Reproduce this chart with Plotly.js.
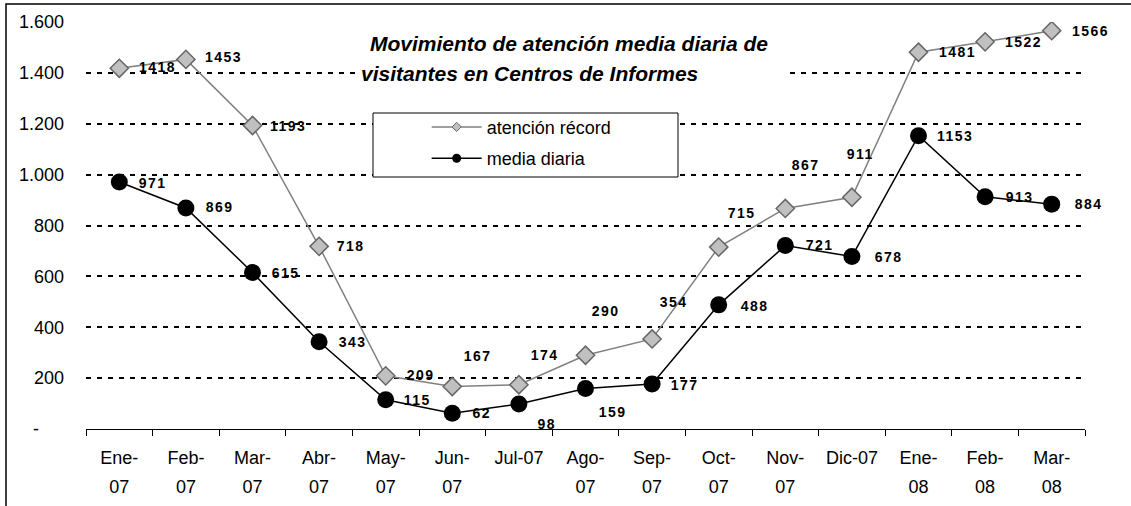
<!DOCTYPE html>
<html>
<head>
<meta charset="utf-8">
<script src="https://cdn.plot.ly/plotly-3.0.1.min.js"></script>
<style>
html,body{margin:0;padding:0;background:#fff;}
#chart{width:1131px;height:506px;}
</style>
</head>
<body>
<div id="chart"></div>
<script>
// ---- data ----
const months = ["Ene-07","Feb-07","Mar-07","Abr-07","May-07","Jun-07","Jul-07","Ago-07","Sep-07","Oct-07","Nov-07","Dic-07","Ene-08","Feb-08","Mar-08"];
const tickLine1 = ["Ene-","Feb-","Mar-","Abr-","May-","Jun-","Jul-07","Ago-","Sep-","Oct-","Nov-","Dic-07","Ene-","Feb-","Mar-"];
const tickLine2 = ["07","07","07","07","07","07","","07","07","07","07","","08","08","08"];
const atencionRecord = [1418,1453,1193,718,209,167,174,290,354,715,867,911,1481,1522,1566];
const mediaDiaria = [971,869,615,343,115,62,98,159,177,488,721,678,1153,913,884];
const yTickVals = [0,200,400,600,800,1000,1200,1400,1600];
const yTickText = ["-\u00a0\u00a0\u00a0\u00a0\u00a0","200","400","600","800","1.000","1.200","1.400","1.600"];
const seriesNames = ["atención récord","media diaria"];
const titleLine1 = "Movimiento de atención media diaria de";
const titleLine2 = "visitantes en Centros de Informes";

// ---- label offsets (px, screen: +x right, +y down) ----
const recDx = [38,38,36,32,35,26,26,20,22,23,21,9,39,38,39];
const recDy = [-1,-2,0,0,-1,-31,-30,-44,-37,-34,-43,-43,0,0,0];
const medDx = [34,34,33,34,32,30,28,27,33,36,35,37,37,35,37];
const medDy = [1,-1,0,0,0,0,20,23,1,1,-1,0,0,0,0];

const FONT = "Arial, 'Liberation Sans', sans-serif";

const recLine = {color: "#808080", width: 1.5};
const recMarker = {symbol: "diamond", color: "#c0c0c0", line: {color: "#666666", width: 1.5}};
const medLine = {color: "#000000", width: 1.5};
const medMarker = {symbol: "circle", color: "#000000"};

const traces = [
  {
    x: months, y: atencionRecord, name: seriesNames[0], type: "scatter", mode: "lines+markers",
    line: recLine, marker: Object.assign({size: 14}, recMarker),
    showlegend: false, hoverinfo: "x+y"
  },
  {
    x: months, y: mediaDiaria, name: seriesNames[1], type: "scatter", mode: "lines+markers",
    line: medLine, marker: Object.assign({size: 17}, medMarker),
    showlegend: false, hoverinfo: "x+y"
  },
  // legend entries only (gap point, nothing drawn)
  {
    x: [months[0]], y: [null], name: seriesNames[0], type: "scatter", mode: "lines+markers",
    line: recLine, marker: Object.assign({size: 7}, recMarker, {line: {color: "#666666", width: 1}}),
    legendgroup: "a", showlegend: true, hoverinfo: "skip"
  },
  {
    x: [months[0]], y: [null], name: seriesNames[1], type: "scatter", mode: "lines+markers",
    line: medLine, marker: Object.assign({size: 9}, medMarker),
    legendgroup: "b", showlegend: true, hoverinfo: "skip"
  },
  // carrier for the second row of x tick labels
  {
    x: [], y: [], xaxis: "x2", yaxis: "y", type: "scatter", mode: "markers", showlegend: false, hoverinfo: "skip"
  }
];

const annotations = [];
annotations.push({
  xref: "paper", yref: "paper", x: (368-86)/999, y: (429-43)/407, xanchor: "left", yanchor: "middle",
  text: titleLine1, showarrow: false, font: {family: FONT, size: 21, color: "#000", weight: 700, style: "italic"},
  bgcolor: "#ffffff", borderpad: 1
});
annotations.push({
  xref: "paper", yref: "paper", x: (358-86)/999, y: (429-73)/407, xanchor: "left", yanchor: "middle",
  text: titleLine2, showarrow: false, font: {family: FONT, size: 21, color: "#000", weight: 700, style: "italic"},
  bgcolor: "#ffffff", borderpad: 2, width: 426, align: "left"
});
const NLABEL_START = annotations.length;
atencionRecord.forEach((v, i) => {
  annotations.push({x: months[i], y: v, xref: "x", yref: "y", text: String(v), showarrow: false,
    xanchor: "center", yanchor: "middle", xshift: recDx[i], yshift: -recDy[i],
    font: {family: FONT, size: 14, color: "#000", weight: 700}});
});
mediaDiaria.forEach((v, i) => {
  annotations.push({x: months[i], y: v, xref: "x", yref: "y", text: String(v), showarrow: false,
    xanchor: "center", yanchor: "middle", xshift: medDx[i], yshift: -medDy[i],
    font: {family: FONT, size: 14, color: "#000", weight: 700}});
});

const layout = {
  width: 1131, height: 506,
  margin: {l: 86, r: 46, t: 22, b: 77},
  paper_bgcolor: "#ffffff", plot_bgcolor: "#ffffff",
  font: {family: FONT, color: "#000"},
  showlegend: true,
  legend: {
    x: 0.341, y: 0.787, xanchor: "left", yanchor: "top",
    bgcolor: "rgba(0,0,0,0)", borderwidth: 0,
    font: {family: FONT, size: 18, color: "#000"},
    traceorder: "grouped", tracegroupgap: 5, itemwidth: 50
  },
  xaxis: {
    type: "category", range: [-0.5, 14.5], tickmode: "array", tickvals: months, ticktext: tickLine1,
    tickson: "boundaries", ticks: "outside", ticklen: 6, tickwidth: 1, tickcolor: "#000",
    showline: true, linecolor: "#000", linewidth: 1, showgrid: false, zeroline: false,
    tickfont: {family: FONT, size: 18, color: "#000"}, ticklabelstandoff: 12, automargin: false, fixedrange: true
  },
  xaxis2: {
    overlaying: "x", anchor: "y", side: "bottom", type: "linear", range: [-0.5, 14.5],
    tickmode: "array", tickvals: months.map((m, i) => i), ticktext: tickLine2,
    ticks: "", showline: false, showgrid: false, zeroline: false,
    tickfont: {family: FONT, size: 18, color: "#000"}, ticklabelstandoff: 45, automargin: false, fixedrange: true
  },
  yaxis: {
    range: [0, 1600], tickmode: "array", tickvals: yTickVals, ticktext: yTickText,
    ticks: "", showline: false, showgrid: true, gridcolor: "#000", gridwidth: 2, griddash: "5px,6px",
    zeroline: true, zerolinecolor: "#000", zerolinewidth: 1,
    tickfont: {family: FONT, size: 18, color: "#000"}, ticklabelstandoff: 21, automargin: false, fixedrange: true
  },
  shapes: [
    {type: "rect", xref: "paper", yref: "paper", x0: (373-86)/999, x1: (678-86)/999, y0: (429-177)/407, y1: (429-113)/407,
     fillcolor: "#ffffff", line: {color: "#000", width: 1}, layer: "above"},
    {type: "rect", xref: "paper", yref: "paper", x0: (6-86)/999, x1: 1.3, y0: -0.4, y1: (429-4)/407,
     fillcolor: "rgba(0,0,0,0)", line: {color: "#000", width: 1.5}, layer: "above"}
  ],
  annotations: annotations
};

Plotly.newPlot("chart", traces, layout, {displayModeBar: false, staticPlot: true}).then(() => {
  document.querySelectorAll("#chart .annotation").forEach(g => {
    const idx = +g.getAttribute("data-index");
    if (idx >= NLABEL_START) {
      const t = g.querySelector("text");
      if (t) t.style.letterSpacing = "1.5px";
    }
  });
});
</script>
</body>
</html>
